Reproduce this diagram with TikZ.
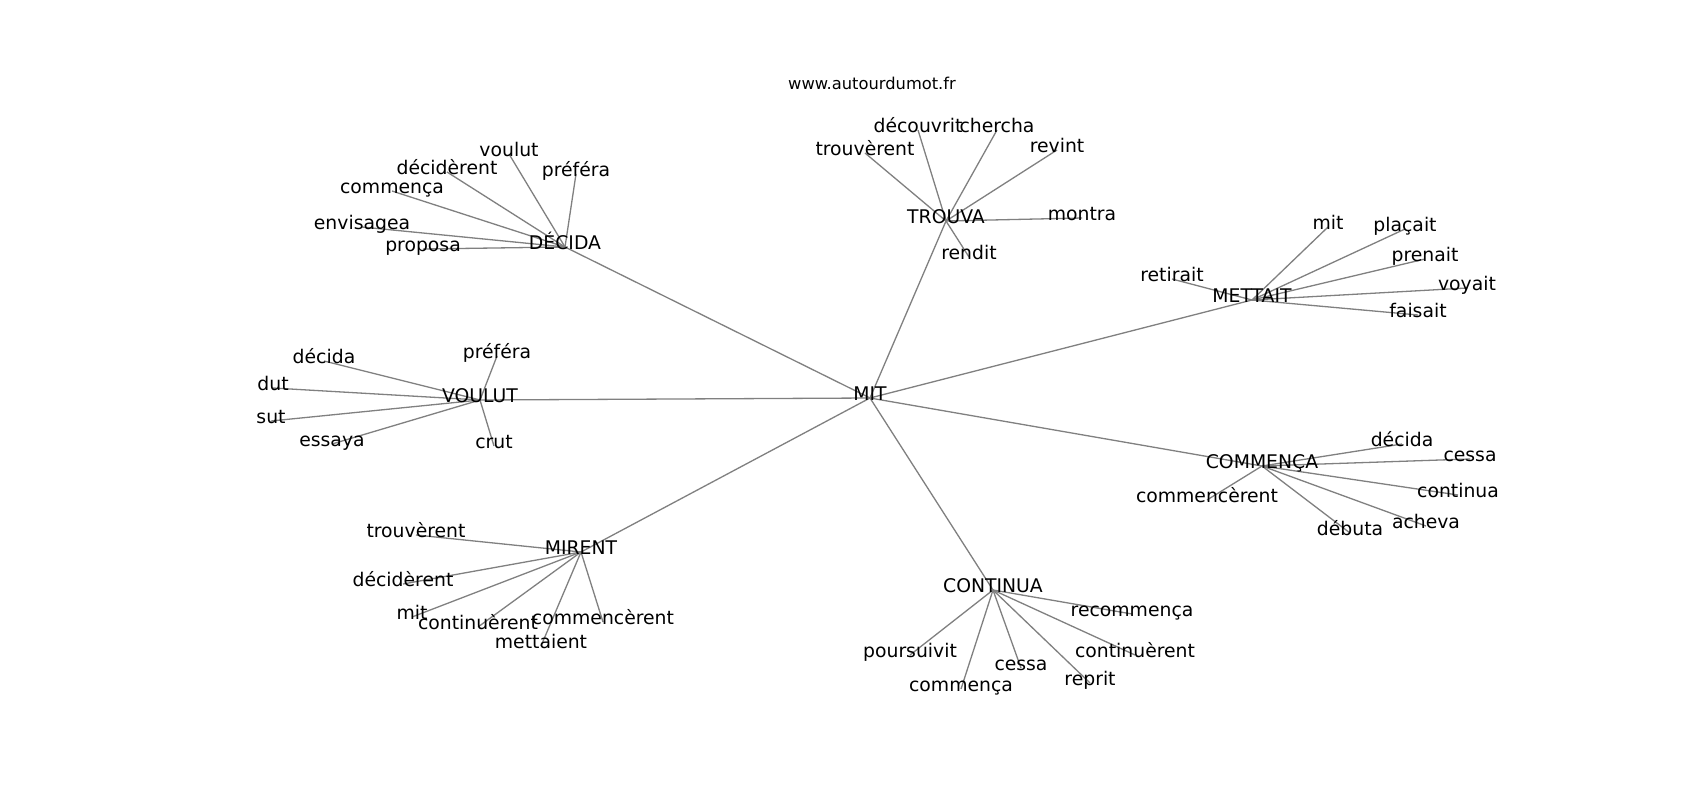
\documentclass[tikz,border=0pt]{standalone}
\usepackage{fontspec}
\setmainfont{DejaVu Sans}
\usetikzlibrary{backgrounds}
\tikzset{
  lbl/.style={inner sep=0pt, outer sep=0pt, anchor=center, text height=0.76em, text depth=0.24em, font=\fontsize{18.8}{22}\selectfont, text=black},
  ttl/.style={inner sep=0pt, anchor=center, text height=0.76em, text depth=0.24em, font=\fontsize{16.3}{19}\selectfont, text=black},
  edge/.style={draw=gray, line width=1.3pt}
}
\begin{document}
\begin{tikzpicture}[x=1pt,y=-1pt]
\useasboundingbox (0,0) rectangle (1700,800);
\begin{scope}[shift={(0,4)}]
\node[ttl] (title) at (872,83) {www.autourdumot.fr};
% hubs
\node[lbl] (mit) at (870,394) {MIT};
\node[lbl] (decida) at (565,243) {DÉCIDA};
\node[lbl] (trouva) at (946,217) {TROUVA};
\node[lbl] (mettait) at (1252,296) {METTAIT};
\node[lbl] (voulut) at (480,396) {VOULUT};
\node[lbl] (commenca) at (1262,462) {COMMENÇA};
\node[lbl] (mirent) at (581,548) {MIRENT};
\node[lbl] (continua) at (993,586) {CONTINUA};
% DECIDA leaves
\node[lbl] (d1) at (509,150) {voulut};
\node[lbl] (d2) at (447,168) {décidèrent};
\node[lbl] (d3) at (576,170) {préféra};
\node[lbl] (d4) at (392,187) {commença};
\node[lbl] (d5) at (362,223) {envisagea};
\node[lbl] (d6) at (423,245) {proposa};
% TROUVA leaves
\node[lbl] (t1) at (918,126) {découvrit};
\node[lbl] (t2) at (997,126) {chercha};
\node[lbl] (t3) at (865,149) {trouvèrent};
\node[lbl] (t4) at (1057,146) {revint};
\node[lbl] (t5) at (1082,214) {montra};
\node[lbl] (t6) at (969,253) {rendit};
% METTAIT leaves
\node[lbl] (m1) at (1328,223) {mit};
\node[lbl] (m2) at (1405,225) {plaçait};
\node[lbl] (m3) at (1425,255) {prenait};
\node[lbl] (m4) at (1467,284) {voyait};
\node[lbl] (m5) at (1418,311) {faisait};
\node[lbl] (m6) at (1172,275) {retirait};
% VOULUT leaves
\node[lbl] (v1) at (324,357) {décida};
\node[lbl] (v2) at (273,384) {dut};
\node[lbl] (v3) at (271,417) {sut};
\node[lbl] (v4) at (332,440) {essaya};
\node[lbl] (v5) at (497,352) {préféra};
\node[lbl] (v6) at (494,442) {crut};
% COMMENCA leaves
\node[lbl] (c1) at (1402,440) {décida};
\node[lbl] (c2) at (1470,455) {cessa};
\node[lbl] (c3) at (1458,491) {continua};
\node[lbl] (c4) at (1426,522) {acheva};
\node[lbl] (c5) at (1350,529) {débuta};
\node[lbl] (c6) at (1207,496) {commencèrent};
% MIRENT leaves
\node[lbl] (r1) at (416,531) {trouvèrent};
\node[lbl] (r2) at (403,580) {décidèrent};
\node[lbl] (r3) at (412,613) {mit};
\node[lbl] (r4) at (478,623) {continuèrent};
\node[lbl] (r5) at (603,618) {commencèrent};
\node[lbl] (r6) at (541,642) {mettaient};
% CONTINUA leaves
\node[lbl] (n1) at (1132,610) {recommença};
\node[lbl] (n2) at (910,651) {poursuivit};
\node[lbl] (n3) at (1135,651) {continuèrent};
\node[lbl] (n4) at (1021,664) {cessa};
\node[lbl] (n5) at (1090,679) {reprit};
\node[lbl] (n6) at (961,685) {commença};
\end{scope}
\begin{scope}[on background layer]
\fill[white] (0,0) rectangle (1700,800);
\foreach \h in {decida,trouva,mettait,voulut,commenca,mirent,continua}
  \draw[edge] (mit.center) -- (\h.center);
\foreach \l in {d1,d2,d3,d4,d5,d6}
  \draw[edge] (decida.center) -- (\l.center);
\foreach \l in {t1,t2,t3,t4,t5,t6}
  \draw[edge] (trouva.center) -- (\l.center);
\foreach \l in {m1,m2,m3,m4,m5,m6}
  \draw[edge] (mettait.center) -- (\l.center);
\foreach \l in {v1,v2,v3,v4,v5,v6}
  \draw[edge] (voulut.center) -- (\l.center);
\foreach \l in {c1,c2,c3,c4,c5,c6}
  \draw[edge] (commenca.center) -- (\l.center);
\foreach \l in {r1,r2,r3,r4,r5,r6}
  \draw[edge] (mirent.center) -- (\l.center);
\foreach \l in {n1,n2,n3,n4,n5,n6}
  \draw[edge] (continua.center) -- (\l.center);
\end{scope}
\end{tikzpicture}
\end{document}
